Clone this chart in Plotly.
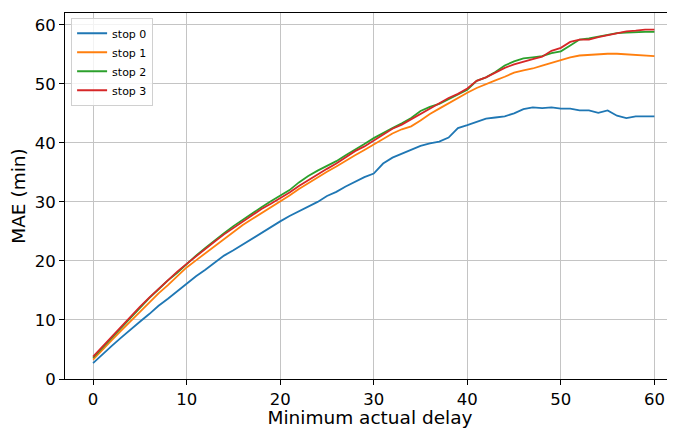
import plotly.graph_objects as go

x = list(range(61))

stop0 = [2.7, 4.2, 5.6, 7.0, 8.4, 9.7, 11.0, 12.4, 13.6, 14.9, 16.1, 17.4, 18.5, 19.7, 20.9,
         21.8, 22.8, 23.8, 24.8, 25.8, 26.7, 27.6, 28.4, 29.2, 30.0, 31.0, 31.7, 32.6, 33.4,
         34.2, 34.8, 36.5, 37.5, 38.2, 38.9, 39.5, 39.9, 40.2, 40.9, 42.5, 43.0, 43.6, 44.1,
         44.3, 44.5, 45.0, 45.7, 46.0, 45.9, 46.0, 45.8, 45.8, 45.5, 45.5, 45.1, 45.5, 44.6,
         44.2, 44.5, 44.5, 44.5]
stop1 = [3.3, 5.0, 6.6, 8.2, 9.8, 11.4, 13.0, 14.5, 15.9, 17.4, 18.9, 20.1, 21.3, 22.6, 23.8,
         25.0, 26.1, 27.1, 28.1, 29.1, 30.0, 31.1, 32.2, 33.2, 34.2, 35.1, 36.0, 37.0, 37.9,
         38.8, 39.7, 40.7, 41.6, 42.3, 42.8, 43.8, 44.9, 45.8, 46.7, 47.7, 48.5, 49.3, 50.0,
         50.6, 51.2, 51.9, 52.3, 52.6, 53.1, 53.6, 54.1, 54.5, 54.8, 54.9, 55.1, 55.1, 55.1,
         55.0, 54.9, 54.7, 54.7]
stop2 = [3.6, 5.3, 7.0, 8.7, 10.4, 12.0, 13.7, 15.2, 16.7, 18.0, 19.5, 20.9, 22.2, 23.5, 24.7,
         25.9, 27.0, 28.1, 29.1, 30.1, 31.0, 32.0, 33.3, 34.4, 35.3, 36.1, 36.9, 37.9, 38.8,
         39.8, 40.8, 41.7, 42.5, 43.3, 44.2, 45.4, 46.1, 46.6, 47.4, 48.2, 49.0, 50.5, 51.1,
         52.0, 53.1, 53.8, 54.3, 54.5, 54.7, 55.2, 55.5, 56.5, 57.5, 57.7, 58.0, 58.3, 58.6,
         58.7, 58.8, 58.8, 58.8]
stop3 = [3.8, 5.5, 7.2, 8.9, 10.5, 12.2, 13.8, 15.3, 16.7, 18.2, 19.5, 20.8, 22.0, 23.3, 24.5,
         25.6, 26.7, 27.8, 28.8, 29.7, 30.6, 31.6, 32.7, 33.7, 34.7, 35.6, 36.5, 37.5, 38.6,
         39.4, 40.4, 41.5, 42.4, 43.1, 44.0, 45.0, 45.9, 46.8, 47.6, 48.3, 49.2, 50.5, 51.1,
         51.9, 52.7, 53.3, 53.8, 54.2, 54.6, 55.6, 56.1, 57.1, 57.5, 57.5, 57.9, 58.2, 58.6,
         58.9, 59.0, 59.2, 59.2]

series = [("stop 0", stop0, "#1f77b4"), ("stop 1", stop1, "#ff7f0e"),
          ("stop 2", stop2, "#2ca02c"), ("stop 3", stop3, "#d62728")]

x_ticks = [0, 10, 20, 30, 40, 50, 60]
y_ticks = [0, 10, 20, 30, 40, 50, 60]

fig = go.Figure()
for name, vals, color in series:
    fig.add_trace(go.Scatter(x=x, y=vals, mode="lines", name=name,
                             line=dict(color=color, width=1.8)))

font = "DejaVu Sans"
fig.update_layout(
    width=667, height=420,
    margin=dict(l=57, r=0, t=5, b=49),
    paper_bgcolor="white", plot_bgcolor="white",
    font=dict(family=font, color="black"),
    showlegend=True,
    legend=dict(x=0.01, y=0.987, xanchor="left", yanchor="top",
                bgcolor="rgba(255,255,255,0.8)", bordercolor="#d0d0d0", borderwidth=1,
                font=dict(family=font, size=11, color="black"),
                tracegroupgap=0, itemwidth=30),
    xaxis=dict(range=[-3, 62.2], tickvals=x_ticks, showgrid=True, gridcolor="#c4c4c4",
               gridwidth=1, zeroline=False, showline=True, linecolor="black", linewidth=1,
               mirror=True, ticks="outside", ticklen=5, tickcolor="black",
               tickfont=dict(size=16.5, family=font),
               title=dict(text="Minimum actual delay", font=dict(size=18.5, family=font),
                          standoff=2)),
    yaxis=dict(range=[0, 62], tickvals=y_ticks, showgrid=True, gridcolor="#c4c4c4",
               gridwidth=1, zeroline=False, showline=True, linecolor="black", linewidth=1,
               ticks="outside", ticklen=5, tickcolor="black",
               tickfont=dict(size=16.5, family=font),
               title=dict(text="MAE (min)", font=dict(size=18.5, family=font), standoff=4)),
)

fig.write_html("out.html")
